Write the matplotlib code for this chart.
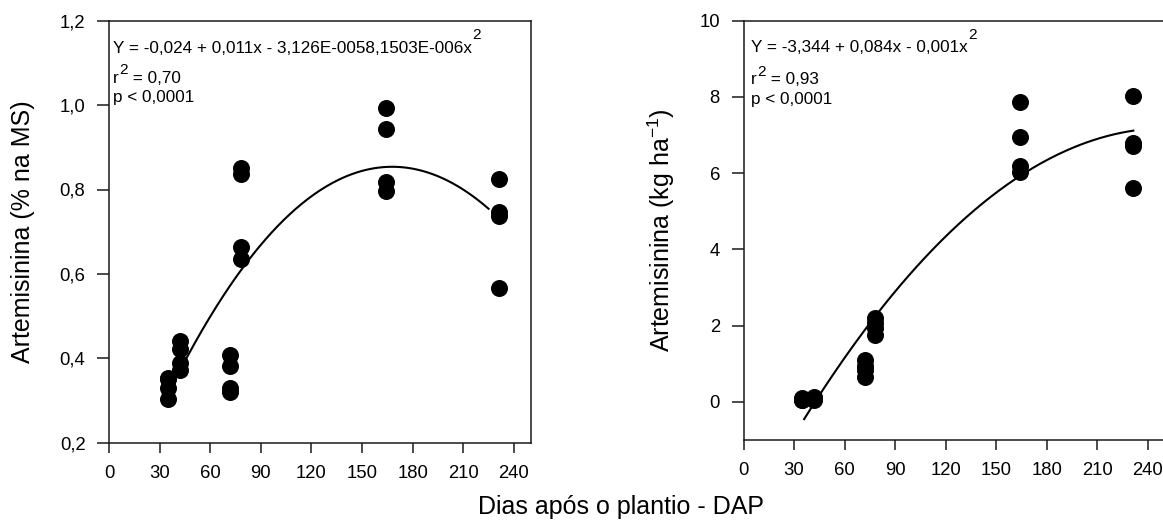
import numpy as np
import matplotlib
matplotlib.use("Agg")
import matplotlib.pyplot as plt

plt.rcParams['font.family'] = ['Liberation Sans', 'DejaVu Sans']

# ---- data ----
dap_left = [35, 35, 35, 35, 42, 42, 42, 42, 72, 72, 72, 72,
            78, 78, 78, 78, 164, 164, 164, 164, 231, 231, 231, 231]
art_pct = [0.353, 0.350, 0.329, 0.304, 0.442, 0.421, 0.388, 0.372,
           0.408, 0.382, 0.329, 0.321, 0.852, 0.837, 0.664, 0.635,
           0.992, 0.943, 0.817, 0.796, 0.825, 0.746, 0.737, 0.567]

dap_right = [35, 35, 35, 35, 42, 42, 42, 42, 72, 72, 72, 72,
             78, 78, 78, 78, 164, 164, 164, 164, 231, 231, 231, 231]
art_kg = [0.10, 0.08, 0.06, 0.05, 0.13, 0.10, 0.07, 0.05,
          1.09, 0.95, 0.83, 0.65, 2.20, 2.07, 1.95, 1.75,
          7.88, 6.96, 6.20, 6.04, 8.03, 6.80, 6.72, 5.62]

x_ticks = [0, 30, 60, 90, 120, 150, 180, 210, 240]
left_yticks = [0.2, 0.4, 0.6, 0.8, 1.0, 1.2]
left_yticklabels = ['0,2', '0,4', '0,6', '0,8', '1,0', '1,2']
right_yticks = [0, 2, 4, 6, 8, 10]

left_curve_range = (46, 225)
right_curve_range = (36, 231.5)

W, H = 1163, 520
fig = plt.figure(figsize=(W / 100, H / 100), dpi=100)


def fx(px):
    return px / W


def fy(py):
    return 1 - py / H


def make_axes(l, t, r, b):
    return fig.add_axes([fx(l), fy(b), fx(r) - fx(l), fy(t) - fy(b)])


axL = make_axes(109, 20.7, 530.7, 442.7)
axR = make_axes(743.5, 20.7, 1164.5, 440)

FS = 12.3
TFS = 13.3
for ax in (axL, axR):
    for s in ax.spines.values():
        s.set_linewidth(1.1)
        s.set_color('#1a1a1a')
    ax.set_xlim(0, 250)
    ax.set_xticks(x_ticks)
    ax.tick_params(axis='x', direction='out', length=7, width=1.1, pad=9,
                   labelsize=TFS, color='#1a1a1a', top=False)
    ax.tick_params(axis='y', direction='out', length=9, width=1.1, pad=8,
                   labelsize=TFS, color='#1a1a1a', right=False)

# Left panel
axL.set_ylim(0.2, 1.2)
axL.set_yticks(left_yticks)
axL.set_yticklabels(left_yticklabels)
axL.scatter(dap_left, art_pct, s=150, color='black', zorder=3, linewidths=0)
cL = np.polyfit(dap_left, art_pct, 2)
xx = np.linspace(*left_curve_range, 200)
axL.plot(xx, np.polyval(cL, xx), color='black', lw=1.5, zorder=2)
axL.set_ylabel('Artemisinina (% na MS)', fontsize=18)
axL.yaxis.set_label_coords(-0.176, 0.5)

# Right panel
axR.set_ylim(-1, 10)
axR.set_yticks(right_yticks)
axR.scatter(dap_right, art_kg, s=150, color='black', zorder=3, linewidths=0)
cR = np.polyfit(dap_right, art_kg, 2)
xx = np.linspace(*right_curve_range, 200)
axR.plot(xx, np.polyval(cR, xx), color='black', lw=1.5, zorder=2)
axR.set_ylabel('Artemisinina (kg ha$^{\\mathregular{-1}}$)', fontsize=18)
axR.yaxis.set_label_coords(-0.157, 0.5)

fig.text(fx(621), fy(514), 'Dias após o plantio - DAP', fontsize=18,
         ha='center', va='baseline')

renderer = fig.canvas.get_renderer()


def stats_block(x0, eq, r2, y_eq, y_r2, y_p):
    t = fig.text(fx(x0), fy(y_eq), eq, fontsize=FS, va='baseline')
    bb = t.get_window_extent(renderer)
    fig.text(bb.x1 / W + 0.0005, fy(y_eq - 13.5), '2', fontsize=FS * 0.9, va='baseline')
    t2 = fig.text(fx(x0), fy(y_r2), 'r', fontsize=FS, va='baseline')
    bb2 = t2.get_window_extent(renderer)
    t3 = fig.text(bb2.x1 / W + 0.0005, fy(y_r2 - 8.5), '2', fontsize=FS * 0.9, va='baseline')
    bb3 = t3.get_window_extent(renderer)
    fig.text(bb3.x1 / W, fy(y_r2), ' = ' + r2, fontsize=FS, va='baseline')
    fig.text(fx(x0), fy(y_p), 'p < 0,0001', fontsize=FS, va='baseline')


stats_block(113, 'Y = -0,024 + 0,011x - 3,126E-0058,1503E-006x', '0,70', 52.7, 83, 102)
stats_block(751, 'Y = -3,344 + 0,084x - 0,001x', '0,93', 52.2, 84.5, 104)

fig.savefig('out.png', dpi=100)
